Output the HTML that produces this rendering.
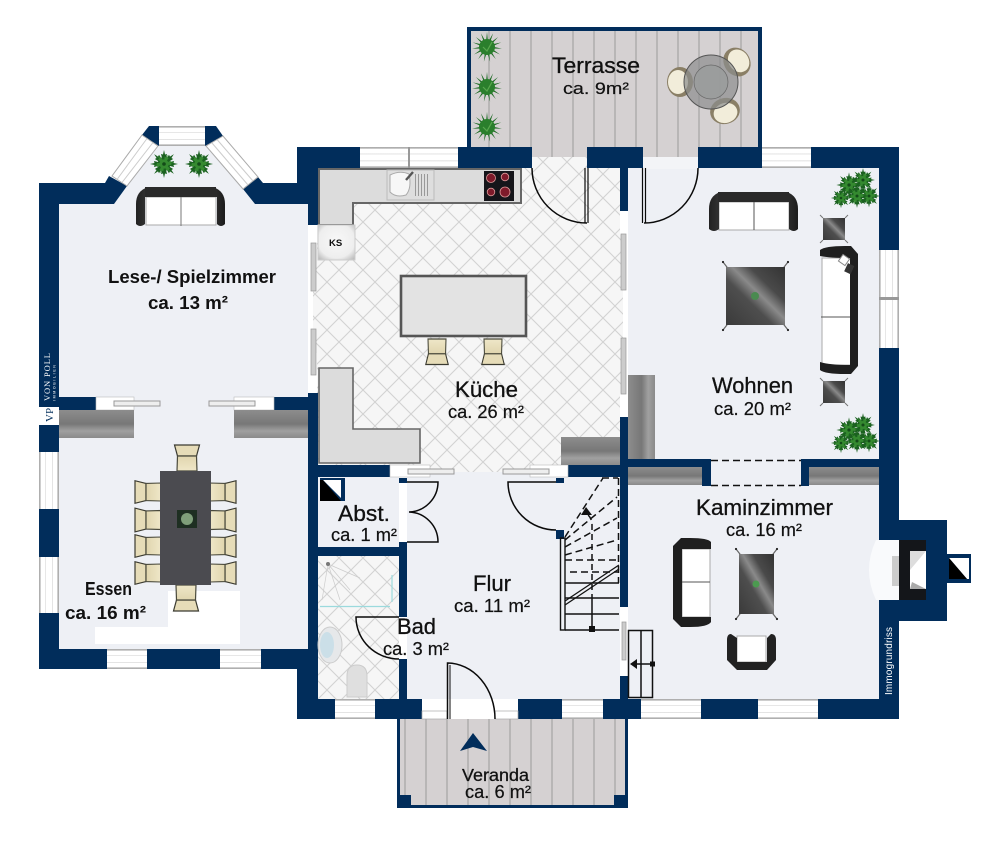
<!DOCTYPE html>
<html><head><meta charset="utf-8"><title>Grundriss</title>
<style>html,body{margin:0;padding:0;background:#fff}svg{display:block}
text{font-family:"Liberation Sans",sans-serif;fill:#111}
.h{stroke:#111;stroke-width:.3;font-size:22px}
.s{stroke:#111;stroke-width:.2;font-size:18px}
.b{font-weight:bold;font-size:18.4px}</style></head><body>
<svg width="1000" height="846" viewBox="0 0 1000 846" xmlns="http://www.w3.org/2000/svg">
<defs>
<pattern id="tile" width="24" height="24" patternUnits="userSpaceOnUse" x="3" y="6">
<rect width="24" height="24" fill="#f6f6f6"/>
<path d="M0 0L24 24M24 0L0 24" stroke="#d2d2d2" stroke-width="1.1"/>
</pattern>
<pattern id="plank" width="21" height="40" patternUnits="userSpaceOnUse" x="5.5">
<rect width="21" height="40" fill="#d5d1d2"/>
<rect x="0" width="1" height="40" fill="#9a9a9a"/>
</pattern>
<linearGradient id="wh" x1="0" y1="0" x2="0" y2="1">
<stop offset="0" stop-color="#a8a8a8"/><stop offset=".07" stop-color="#bbb"/><stop offset=".1" stop-color="#fff"/>
<stop offset=".31" stop-color="#fff"/><stop offset=".33" stop-color="#c8c8c8"/><stop offset=".36" stop-color="#fff"/>
<stop offset=".64" stop-color="#fff"/><stop offset=".66" stop-color="#c8c8c8"/><stop offset=".69" stop-color="#fff"/>
<stop offset=".9" stop-color="#fff"/><stop offset=".93" stop-color="#bbb"/><stop offset="1" stop-color="#a8a8a8"/>
</linearGradient>
<linearGradient id="wv" x1="0" y1="0" x2="1" y2="0">
<stop offset="0" stop-color="#a8a8a8"/><stop offset=".07" stop-color="#bbb"/><stop offset=".1" stop-color="#fff"/>
<stop offset=".31" stop-color="#fff"/><stop offset=".33" stop-color="#c8c8c8"/><stop offset=".36" stop-color="#fff"/>
<stop offset=".64" stop-color="#fff"/><stop offset=".66" stop-color="#c8c8c8"/><stop offset=".69" stop-color="#fff"/>
<stop offset=".9" stop-color="#fff"/><stop offset=".93" stop-color="#bbb"/><stop offset="1" stop-color="#a8a8a8"/>
</linearGradient>
<linearGradient id="gh" x1="0" y1="0" x2="0" y2="1">
<stop offset="0" stop-color="#8d8d8d"/><stop offset=".5" stop-color="#777"/><stop offset=".75" stop-color="#a0a0a0"/><stop offset="1" stop-color="#8a8a8a"/>
</linearGradient>
<linearGradient id="gv" x1="0" y1="0" x2="1" y2="0">
<stop offset="0" stop-color="#8d8d8d"/><stop offset=".5" stop-color="#777"/><stop offset=".75" stop-color="#a0a0a0"/><stop offset="1" stop-color="#8a8a8a"/>
</linearGradient>
<linearGradient id="blk" x1="0" y1="0" x2="1" y2="0">
<stop offset="0" stop-color="#222"/><stop offset=".5" stop-color="#666"/><stop offset="1" stop-color="#1c1c1c"/>
</linearGradient>
<linearGradient id="glass" x1="0" y1="1" x2="1" y2="0">
<stop offset="0" stop-color="#3a3a3a"/><stop offset=".4" stop-color="#4e4e4e"/><stop offset=".55" stop-color="#8a8a8a"/><stop offset=".7" stop-color="#4a4a4a"/><stop offset="1" stop-color="#333"/>
</linearGradient>
<radialGradient id="ks" cx=".5" cy=".45" r=".7"><stop offset="0" stop-color="#f8f8f8"/><stop offset=".7" stop-color="#eee"/><stop offset="1" stop-color="#bbb"/></radialGradient>
<linearGradient id="beige" x1="0" y1="0" x2="0" y2="1"><stop offset="0" stop-color="#e0d5ae"/><stop offset="1" stop-color="#efe7c8"/></linearGradient>
<g id="leaf"><path d="M0 0L-4 -5L-2 -6L-3 -10L-1 -9.500L0 -14L1 -9.500L3 -10L2 -6L4 -5Z"/></g>
<g id="spk"><path d="M-1.500 0L0 -15L1.500 0Z"/></g>
<g id="pl">
<g fill="#1b6120"><use href="#leaf"/><use href="#leaf" transform="rotate(45)"/><use href="#leaf" transform="rotate(90)"/><use href="#leaf" transform="rotate(135)"/><use href="#leaf" transform="rotate(180)"/><use href="#leaf" transform="rotate(225)"/><use href="#leaf" transform="rotate(270)"/><use href="#leaf" transform="rotate(315)"/></g>
<circle r="6" fill="#1b6120"/>
<g fill="#358a30" transform="rotate(22) scale(.72)"><use href="#leaf"/><use href="#leaf" transform="rotate(60)"/><use href="#leaf" transform="rotate(120)"/><use href="#leaf" transform="rotate(180)"/><use href="#leaf" transform="rotate(240)"/><use href="#leaf" transform="rotate(300)"/></g>
<circle r="1.800" fill="#134a18"/>
</g>
<g id="sp">
<g fill="#1d6a24"><use href="#spk"/><use href="#spk" transform="rotate(24)"/><use href="#spk" transform="rotate(48)"/><use href="#spk" transform="rotate(72)"/><use href="#spk" transform="rotate(96)"/><use href="#spk" transform="rotate(120)"/><use href="#spk" transform="rotate(144)"/><use href="#spk" transform="rotate(168)"/><use href="#spk" transform="rotate(192)"/><use href="#spk" transform="rotate(216)"/><use href="#spk" transform="rotate(240)"/><use href="#spk" transform="rotate(264)"/><use href="#spk" transform="rotate(288)"/><use href="#spk" transform="rotate(312)"/><use href="#spk" transform="rotate(336)"/></g>
<circle r="8" fill="#2a7f2c"/><path d="M-4 0L0 4L5 -5" stroke="#58a84e" stroke-width="1.200" fill="none"/>
</g>
<g id="big">
<use href="#pl" transform="translate(-14,9) scale(.72)"/><use href="#pl" transform="translate(14,7) scale(.8)"/><use href="#pl" transform="translate(8,-9) scale(.85)"/><use href="#pl" transform="translate(-6,-4) scale(.9)"/><use href="#pl" transform="translate(2,7) scale(.85)"/>
</g>
<g id="ch">
<path d="M-12.500 -26L12.500 -26L9.500 -15L-9.500 -15Z" fill="#e6dcb8" stroke="#3a3a30" stroke-width="1.200"/>
<path d="M-9.500 -15L9.500 -15L10 0L-10 0Z" fill="url(#beige)" stroke="#4a4a3c" stroke-width="1.200"/>
</g>
<g id="tch">
<ellipse cx="0" cy="0" rx="13" ry="15" fill="#8a7f66"/><ellipse cx="2" cy="0" rx="10" ry="12" fill="#f2edda"/>
</g>
<g id="leg"><path d="M0 0L7 9" stroke="#666" stroke-width="1.200"/><circle cx="7" cy="9" r="1.100" fill="#222"/></g>
</defs>

<rect width="1000" height="846" fill="#fff"/>
<!-- floors -->
<polygon points="59,204 114,204 127,186 159,146 206,146 243,189 255,204 308,204 308,649 59,649" fill="#eef0f5"/>
<rect x="160" y="126" width="45" height="21" fill="#eef0f5"/>
<rect x="628" y="168" width="251" height="531" fill="#eef0f5"/>
<rect x="407" y="472" width="213" height="227" fill="#eef0f5"/>
<rect x="317" y="477" width="82" height="70" fill="#eef0f5"/>
<rect x="168" y="591" width="72" height="53" fill="#fff"/><rect x="95" y="627" width="75" height="17" fill="#fff"/>
<!-- tile -->
<rect x="313" y="157" width="310" height="315" fill="url(#tile)"/>
<rect x="317" y="556" width="82" height="143" fill="url(#tile)"/>
<!-- planks -->
<rect x="467" y="27" width="295" height="120" fill="url(#plank)"/>
<rect x="532" y="147" width="55" height="10" fill="url(#plank)"/>
<rect x="643" y="157" width="55" height="12" fill="#f3f4f7"/>
<rect x="643" y="147" width="55" height="10" fill="url(#plank)"/>
<rect x="397" y="719" width="231" height="89" fill="url(#plank)"/>
<g fill="#012d5b">
<rect x="467" y="27" width="295" height="4"/><rect x="467" y="27" width="4" height="120"/><rect x="758" y="27" width="4" height="120"/>
<rect x="397" y="719" width="3" height="89"/><rect x="625" y="719" width="3" height="89"/><rect x="397" y="805" width="231" height="3"/>
<rect x="397" y="795" width="14" height="13"/><rect x="614" y="795" width="14" height="13"/>
<!-- walls -->
<rect x="39" y="183" width="20" height="486"/>
<polygon points="39,183 105,183 109,176 127,186 114,204 39,204"/>
<polygon points="243,189 258,177 263,183 297,183 297,147 360,147 360,168 318,168 318,225 308,225 308,204 255,204"/>
<polygon points="142,135 149,126 159,126 159,146"/>
<polygon points="205,126 216,126 223,136 205,146"/>
<rect x="458" y="147" width="74" height="21"/><rect x="587" y="147" width="56" height="21"/><rect x="698" y="147" width="64" height="21"/><rect x="811" y="147" width="88" height="21"/>
<rect x="620" y="168" width="8" height="43"/>
<rect x="879" y="147" width="20" height="103"/><rect x="879" y="348" width="20" height="371"/>
<rect x="879" y="520" width="68" height="20"/><rect x="879" y="600" width="68" height="21"/><rect x="926" y="520" width="21" height="101"/>
<rect x="945" y="554" width="26" height="29"/>
<rect x="308" y="393" width="10" height="326"/><rect x="297" y="649" width="21" height="70"/>
<rect x="59" y="397" width="37" height="13"/><rect x="274" y="397" width="34" height="13"/>
<rect x="59" y="649" width="48" height="20"/><rect x="147" y="649" width="73" height="20"/><rect x="261" y="649" width="47" height="20"/>
<rect x="318" y="465" width="72" height="12"/><rect x="568" y="465" width="60" height="12"/>
<rect x="317" y="547" width="90" height="9"/><rect x="399" y="542" width="8" height="75"/><rect x="399" y="659" width="8" height="40"/>
<rect x="297" y="699" width="38" height="20"/><rect x="375" y="699" width="47" height="20"/><rect x="518" y="699" width="44" height="20"/><rect x="603" y="699" width="38" height="20"/><rect x="701" y="699" width="57" height="20"/><rect x="818" y="699" width="81" height="20"/>
<rect x="620" y="417" width="8" height="190"/><rect x="620" y="676" width="8" height="24"/>
<rect x="628" y="459" width="74" height="8"/><rect x="809" y="459" width="70" height="8"/><rect x="702" y="459" width="9" height="27"/><rect x="801" y="459" width="8" height="27"/>
<rect x="399" y="478" width="8" height="5"/><rect x="556" y="478" width="8" height="5"/><rect x="556" y="530" width="8" height="9"/>
</g>
<!-- fireplace -->
<rect x="879" y="540" width="20" height="60" fill="#f9fafc"/>
<path d="M899 540H876Q862 570 876 600H899Z" fill="#f9fafc"/>
<rect x="892" y="556" width="7" height="30" fill="#ccc"/>
<rect x="899" y="540" width="27" height="60" fill="#14161a"/>
<rect x="910" y="551" width="16" height="38" fill="#fff"/><polygon points="910,551 926,551 910,570" fill="#ddd"/><polygon points="910,589 926,589 912,582" fill="#aaa"/>
<polygon points="949,558 969,558 969,579 967,579" fill="#fff"/><polygon points="949,558 949,579 967,579" fill="#000"/>
<!-- windows -->
<g>
<rect x="360" y="147" width="98" height="21" fill="url(#wh)"/><rect x="408" y="147" width="2" height="21" fill="#999"/>
<rect x="762" y="147" width="49" height="21" fill="url(#wh)"/>
<rect x="159" y="126" width="46" height="20" fill="url(#wh)"/>
<rect x="107" y="649" width="40" height="20" fill="url(#wh)"/><rect x="220" y="649" width="41" height="20" fill="url(#wh)"/>
<rect x="335" y="699" width="40" height="20" fill="url(#wh)"/><rect x="562" y="699" width="41" height="20" fill="url(#wh)"/>
<rect x="641" y="699" width="60" height="20" fill="url(#wh)"/><rect x="758" y="699" width="60" height="20" fill="url(#wh)"/>
<rect x="422" y="711" width="25" height="8" fill="#fff" stroke="#aaa" stroke-width=".7"/><rect x="495" y="711" width="23" height="8" fill="#fff" stroke="#aaa" stroke-width=".7"/>
<rect x="39" y="452" width="20" height="57" fill="url(#wv)"/><rect x="39" y="557" width="20" height="56" fill="url(#wv)"/>
<rect x="879" y="250" width="20" height="98" fill="url(#wv)"/><rect x="879" y="297" width="20" height="3" fill="#999"/>
<polygon points="142,135 158,146 127,186 112,176" fill="#fff" stroke="#aaa"/>
<path d="M147 138.500L117 179.500M153 142.500L122 182.500" stroke="#ccc"/>
<polygon points="223,136 206,146 243,189 258,177" fill="#fff" stroke="#aaa"/>
<path d="M217 139.500L253 181M212 143L248 185" stroke="#ccc"/>
<rect x="96" y="397" width="38" height="13" fill="#fff" stroke="#bbb" stroke-width=".6"/><rect x="234" y="397" width="40" height="13" fill="#fff" stroke="#bbb" stroke-width=".6"/>
<rect x="114" y="401" width="46" height="5" fill="#eee" stroke="#999"/><rect x="209" y="401" width="46" height="5" fill="#eee" stroke="#999"/>
<rect x="390" y="465" width="40" height="12" fill="#fff" stroke="#bbb" stroke-width=".6"/><rect x="530" y="465" width="38" height="12" fill="#fff" stroke="#bbb" stroke-width=".6"/>
<rect x="408" y="469" width="46" height="5" fill="#eee" stroke="#999"/><rect x="503" y="469" width="46" height="5" fill="#eee" stroke="#999"/>
<rect x="309" y="225" width="8" height="24" fill="#fff"/><rect x="309" y="353" width="8" height="40" fill="#fff"/>
<rect x="311" y="243" width="5" height="48" fill="#ccc" stroke="#999" stroke-width=".7"/><rect x="311" y="329" width="5" height="46" fill="#ccc" stroke="#999" stroke-width=".7"/>
<rect x="620" y="211" width="8" height="24" fill="#fff"/><rect x="620" y="393" width="8" height="24" fill="#fff"/>
<rect x="621" y="234" width="5" height="56" fill="#ccc" stroke="#999" stroke-width=".7"/><rect x="621" y="338" width="5" height="56" fill="#ccc" stroke="#999" stroke-width=".7"/>
<rect x="620" y="607" width="8" height="69" fill="#fff"/><rect x="622" y="622" width="4" height="38" fill="#ccc" stroke="#999" stroke-width=".7"/>
</g>
<!-- VP logo -->
<rect x="39" y="407" width="20" height="18" fill="#fff"/>
<text transform="translate(53,422) rotate(-90)" font-size="11" style="font-family:'Liberation Serif',serif;fill:#012d5b">VP</text>
<text transform="translate(50,401) rotate(-90)" font-size="8.500" textLength="48" style="font-family:'Liberation Serif',serif;fill:#fff">VON POLL</text>
<text transform="translate(55.500,401) rotate(-90)" font-size="3.600" textLength="36" style="fill:#fff">IMMOBILIEN</text>
<text transform="translate(892,695) rotate(-90)" font-size="10" textLength="68" style="fill:#fff">Immogrundriss</text>
<!-- gray units -->
<rect x="59" y="410" width="75" height="28" fill="url(#gh)"/><rect x="234" y="410" width="74" height="28" fill="url(#gh)"/>
<rect x="628" y="467" width="74" height="18" fill="url(#gh)"/><rect x="809" y="467" width="70" height="18" fill="url(#gh)"/>
<rect x="561" y="437" width="59" height="28" fill="url(#gh)"/>
<rect x="628" y="375" width="27" height="84" fill="url(#gv)"/>
<rect x="711" y="460" width="90" height="26" fill="#eef0f5"/>
<path d="M711 460.500H801M711 485.500H801" stroke="#111" stroke-width="1.600" stroke-dasharray="7 4" fill="none"/>
<!-- kitchen -->
<path d="M319 169H521V203H353V225H319Z" fill="#dcdcdc" stroke="#666" stroke-width="2"/>
<rect x="318" y="225" width="37" height="35" fill="url(#ks)" stroke="#ccc"/>
<text x="329" y="246" font-size="9.500" style="font-weight:bold">KS</text>
<rect x="387" y="170" width="47" height="30" fill="#dedede" stroke="#bbb"/>
<path d="M390 175Q400 170 409 174Q412 188 406 195Q396 198 390 192Z" fill="#f7f7f7" stroke="#aaa"/>
<path d="M415 174h1v22h-1zM418 174h1v22h-1zM421 174h1v22h-1zM424 174h1v22h-1zM427 174h1v22h-1z" fill="#999"/>
<path d="M406 180L413 172" stroke="#555" stroke-width="2.400"/>
<rect x="484" y="171" width="30" height="30" fill="#15151a"/>
<g fill="#7e1a2a" stroke="#d99" stroke-width=".8"><circle cx="491" cy="178" r="4.500"/><circle cx="505" cy="177" r="3.800"/><circle cx="491" cy="192" r="3.800"/><circle cx="505" cy="192" r="5"/></g>
<rect x="401" y="276" width="125" height="60" fill="#e3e3e3" stroke="#555" stroke-width="2.600"/>
<use href="#ch" transform="translate(437,339) rotate(180) scale(.9,.98)"/>
<use href="#ch" transform="translate(493,339) rotate(180) scale(.9,.98)"/>
<path d="M319 368H353V429H420V463H319Z" fill="#dcdcdc" stroke="#666" stroke-width="1.600"/>
<!-- abst shaft -->
<rect x="320" y="478" width="25" height="23" fill="#012d5b"/>
<polygon points="323,480 341,480 341,498" fill="#fff"/><polygon points="320,480 320,501 341,501 323,480" fill="#000"/>
<!-- doors -->
<g fill="none" stroke="#0a0a0a" stroke-width="1.500">
<path d="M532 168A55 55 0 0 0 587 223"/><path d="M585 168V223M588 168V223" stroke-width="1.200"/>
<path d="M698 168A54 55 0 0 1 644 223"/><path d="M642.500 168V223M645.500 168V223" stroke-width="1.200"/>
<path d="M407 482H438A30 30 0 0 1 409 512A30 30 0 0 1 438 542H407"/>
<path d="M556 482H508A48 48 0 0 0 556 530"/>
<path d="M399 617H356A43 42 0 0 0 399 659"/>
<path d="M447.500 719V663A48 56 0 0 1 495 719"/><path d="M450 719V665" stroke-width="1"/>
</g>
<!-- stairs -->
<g fill="none" stroke="#111">
<rect x="560.500" y="538" width="4.500" height="92" stroke-width="1.400"/>
<path d="M565 630H619M565 614H619M565 598H619M565 583H619" stroke-width="1.500"/>
<path d="M565 601L619 565M565 605L619 569" stroke-width="1.300"/>
<path d="M592 630V600" stroke-width="1.500"/>
<path d="M592 600V525Q592 518 587 514" stroke-width="1.500" stroke-dasharray="6 4"/>
<path d="M570 572H618M565 560H618M565 555L617 540M565 547L617 518M565 540L617 497M565 537L603 478M602 478H618M618.500 478V583" stroke-width="1.500" stroke-dasharray="7 4"/>
</g>
<polygon points="586,507 581,515 592,515" fill="#111"/><rect x="589" y="626" width="6" height="6" fill="#111"/>
<!-- side steps -->
<g fill="#eef0f5" stroke="#111" stroke-width="1.500"><rect x="628.500" y="630.500" width="24" height="67"/><path d="M641 630V698" fill="none"/><path d="M632 664H653" fill="none"/></g>
<polygon points="630,664 637,659 637,669" fill="#111"/><rect x="650" y="661.500" width="5" height="5" fill="#111"/>
<polygon points="473,733 487,751 473,747 460,751" fill="#012d5b"/>
<!-- bad -->
<path d="M392 575V602M320 606.500H390" stroke="#9bdadd" stroke-width="1.200" fill="none"/>
<path d="M328 564L340 600M328 564L350 590M328 564L360 578M328 564L322 600" stroke="#ccc" stroke-width=".7"/>
<circle cx="328" cy="564" r="2" fill="#777"/>
<ellipse cx="330" cy="645" rx="12" ry="18" fill="#e6e8ea" stroke="#ccc"/><ellipse cx="327" cy="645" rx="7" ry="13" fill="#cbdfe8"/>
<path d="M347 697V676Q347 665 357 665Q367 665 367 676V697Z" fill="#dfdfdf" stroke="#ccc"/>
<!-- sofas -->
<g>
<rect x="146" y="197" width="70" height="28" fill="#fff" stroke="#aaa"/><path d="M181 197V226" stroke="#777"/>
<path d="M136 224V204Q136 191 148 187H213Q225 191 225 204V224Q221 228 217 224V197H145V224Q140 228 136 224Z" fill="url(#blk)"/>
<path d="M145 187H216V197H145Z" fill="#2a2a2a"/>
<rect x="719" y="202" width="70" height="28" fill="#fff" stroke="#aaa"/><path d="M754 192V230" stroke="#555"/>
<path d="M709 229V209Q709 196 720 192H787Q798 196 798 209V229Q794 233 789 229V202H719V229Q714 233 709 229Z" fill="url(#blk)"/>
<rect x="718" y="192" width="71" height="10" fill="#2a2a2a"/>
</g>
<rect x="822" y="258" width="29" height="107" fill="#fff" stroke="#aaa"/><path d="M821 317H858" stroke="#555"/>
<path d="M820 250Q825 246 845 246H851L858 254V366L851 374H845Q825 374 820 370V362Q830 365 850 365V258Q830 258 820 256Z" fill="#1f1f1f"/>
<rect x="840" y="256" width="8" height="8" transform="rotate(35 844 260)" fill="#fff" stroke="#888"/><rect x="846" y="264" width="7" height="9" transform="rotate(25 849 268)" fill="#333"/>
<use href="#leg" transform="translate(730,271) scale(-1,-1)"/><use href="#leg" transform="translate(781,271) scale(1,-1)"/><use href="#leg" transform="translate(730,321) scale(-1,1)"/><use href="#leg" transform="translate(781,321)"/>
<rect x="726" y="267" width="59" height="58" fill="url(#glass)"/><circle cx="755" cy="296" r="4" fill="#4a8a50"/>
<rect x="823" y="218" width="22" height="22" fill="url(#glass)"/>
<rect x="823" y="381" width="22" height="22" fill="url(#glass)"/>
<path d="M823 218l-3-3M845 218l3-3M823 240l-3 3M845 240l3 3M823 381l-3-3M845 381l3-3M823 403l-3 3M845 403l3 3" stroke="#777"/>
<rect x="682" y="549" width="28" height="68" fill="#fff" stroke="#aaa"/><path d="M673 582H710" stroke="#555"/>
<path d="M711 542Q708 538 690 538H681L673 546V619L681 627H690Q708 627 711 622V617H682V549H711Z" fill="#1f1f1f"/>
<use href="#leg" transform="translate(743,558) scale(-1,-1)"/><use href="#leg" transform="translate(770,558) scale(1,-1)"/><use href="#leg" transform="translate(743,610) scale(-1,1)"/><use href="#leg" transform="translate(770,610)"/>
<rect x="739" y="554" width="35" height="60" fill="url(#glass)"/><circle cx="756" cy="584" r="3.500" fill="#4c9a50"/>
<rect x="737" y="636" width="29" height="26" fill="#fff" stroke="#aaa"/>
<path d="M727 640Q727 634 731 634L737 638V662H767V638L771 634Q776 634 776 640V660L767 670H737L727 660Z" fill="#222"/>
<!-- dining -->
<use href="#ch" transform="translate(187,471)"/>
<use href="#ch" transform="translate(186,585) rotate(180)"/>
<g><use href="#ch" transform="translate(161,492) rotate(-90) scale(.9,1)"/><use href="#ch" transform="translate(161,520) rotate(-90) scale(.95,1)"/><use href="#ch" transform="translate(161,546) rotate(-90) scale(.9,1)"/><use href="#ch" transform="translate(161,573) rotate(-90) scale(.9,1)"/>
<use href="#ch" transform="translate(210,492) rotate(90) scale(.9,1)"/><use href="#ch" transform="translate(210,520) rotate(90) scale(.95,1)"/><use href="#ch" transform="translate(210,546) rotate(90) scale(.9,1)"/><use href="#ch" transform="translate(210,573) rotate(90) scale(.9,1)"/></g>
<rect x="160" y="471" width="51" height="114" fill="#4b4b50"/>
<rect x="177" y="510" width="20" height="18" fill="#1e2f22"/><circle cx="187" cy="519" r="6" fill="#7f9f7a"/>
<!-- terrace set -->
<use href="#tch" transform="translate(680,82) rotate(180)"/>
<use href="#tch" transform="translate(737,62) rotate(-35)"/>
<use href="#tch" transform="translate(725,111) rotate(75)"/>
<circle cx="711" cy="82" r="27" fill="#8b8d8d" fill-opacity=".7" stroke="#555"/><circle cx="711" cy="82" r="17" fill="#9a9c9c" fill-opacity=".85" stroke="#666" stroke-width=".7"/>
<!-- plants -->
<use href="#pl" transform="translate(164,164) scale(1)"/><use href="#pl" transform="translate(199,164) scale(1)"/>
<use href="#sp" transform="translate(487,47)"/><use href="#sp" transform="translate(487,87)"/><use href="#sp" transform="translate(487,127)"/>
<use href="#big" transform="translate(855,189)"/><use href="#big" transform="translate(855,434)"/>
<!-- labels -->
<text x="596" y="73" text-anchor="middle" class="h" textLength="88" lengthAdjust="spacingAndGlyphs">Terrasse</text>
<text x="596" y="94" text-anchor="middle" class="s" style="font-size:17px" textLength="66" lengthAdjust="spacingAndGlyphs">ca. 9m²</text>
<text x="192" y="283" text-anchor="middle" class="b" textLength="168" lengthAdjust="spacingAndGlyphs">Lese-/ Spielzimmer</text>
<text x="188" y="309" text-anchor="middle" class="b" textLength="80" lengthAdjust="spacingAndGlyphs">ca. 13 m²</text>
<text x="486.500" y="397" text-anchor="middle" class="h" textLength="63" lengthAdjust="spacingAndGlyphs">Küche</text>
<text x="486" y="418" text-anchor="middle" class="s" textLength="76" lengthAdjust="spacingAndGlyphs">ca. 26 m²</text>
<text x="752.500" y="393" text-anchor="middle" class="h" textLength="81" lengthAdjust="spacingAndGlyphs">Wohnen</text>
<text x="752.500" y="415" text-anchor="middle" class="s" textLength="77" lengthAdjust="spacingAndGlyphs">ca. 20 m²</text>
<text x="764.500" y="515" text-anchor="middle" class="h" textLength="137" lengthAdjust="spacingAndGlyphs">Kaminzimmer</text>
<text x="764" y="536" text-anchor="middle" class="s" textLength="76" lengthAdjust="spacingAndGlyphs">ca. 16 m²</text>
<text x="364" y="521" text-anchor="middle" class="h" textLength="52" lengthAdjust="spacingAndGlyphs">Abst.</text>
<text x="364" y="541" text-anchor="middle" class="s" textLength="66" lengthAdjust="spacingAndGlyphs">ca. 1 m²</text>
<text x="492" y="591" text-anchor="middle" class="h" textLength="38" lengthAdjust="spacingAndGlyphs">Flur</text>
<text x="492" y="612" text-anchor="middle" class="s" textLength="76" lengthAdjust="spacingAndGlyphs">ca. 11 m²</text>
<text x="416.500" y="634" text-anchor="middle" class="h" textLength="39" lengthAdjust="spacingAndGlyphs">Bad</text>
<text x="416" y="655" text-anchor="middle" class="s" textLength="66" lengthAdjust="spacingAndGlyphs">ca. 3 m²</text>
<text x="495.500" y="781" text-anchor="middle" class="h" style="font-size:17.500px" textLength="67" lengthAdjust="spacingAndGlyphs">Veranda</text>
<text x="498" y="798" text-anchor="middle" class="s" textLength="66" lengthAdjust="spacingAndGlyphs">ca. 6 m²</text>
<text x="108.500" y="595" text-anchor="middle" class="b" textLength="47" lengthAdjust="spacingAndGlyphs">Essen</text>
<text x="105.500" y="619" text-anchor="middle" class="b" textLength="81" lengthAdjust="spacingAndGlyphs">ca. 16 m²</text>
</svg>
</body></html>
